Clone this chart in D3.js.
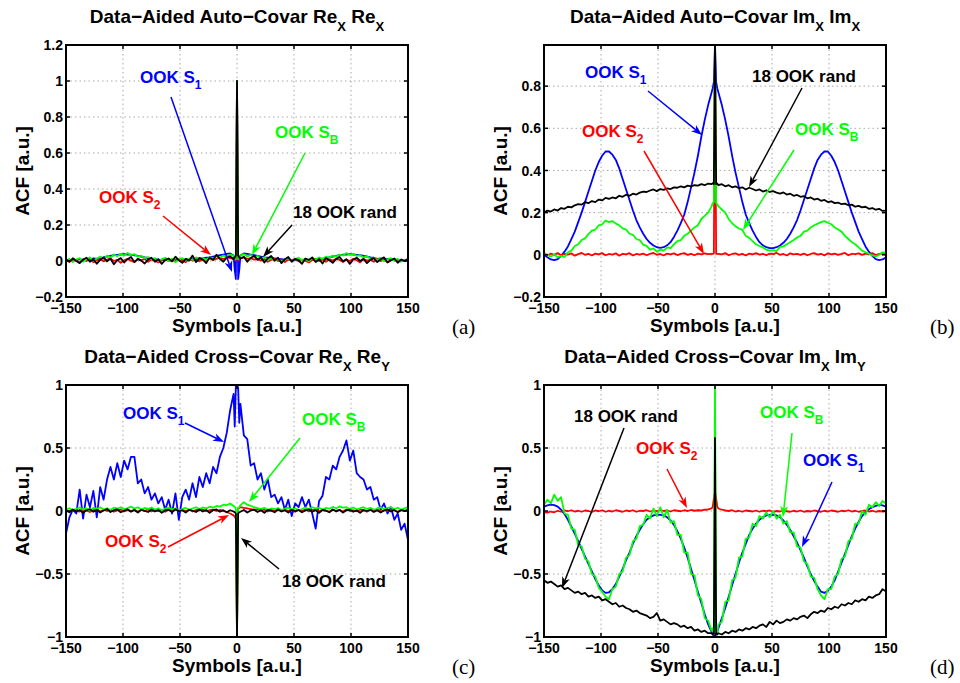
<!DOCTYPE html>
<html>
<head>
<meta charset="utf-8">
<script src="https://cdn.jsdelivr.net/npm/d3@7"></script>
<style>
  body { margin: 0; background: #fff; }
  svg { display: block; }
  text { font-family: "Liberation Sans", Arial, Helvetica, sans-serif; font-weight: bold; }
  .letter { font-family: "Liberation Serif", "Times New Roman", serif; font-weight: normal; }
</style>
</head>
<body>
<svg id="fig" width="960" height="683"></svg>
<script>
// lag axis: every 3rd symbol, plus every symbol round lag 0
var lags = d3.range(-150, -2, 3).concat([-2, -1, 0, 1, 2], d3.range(3, 151, 3));
var xTicks = [-150, -100, -50, 0, 50, 100, 150];

// (a) auto-covariance Re_X Re_X
var rexBlue = [
  0.005, 0.0, 0.008, 0.004, 0.01, 0.006, 0.012, 0.008, 0.015, 0.012, 0.018, 0.02, 0.025, 0.028, 0.032, 0.034, 0.036, 0.038, 0.036, 0.035, 0.032, 0.028, 0.024, 0.02, 0.016,
  0.012, 0.01, 0.008, 0.006, 0.005, 0.004, 0.004, 0.005, 0.006, 0.006, 0.008, 0.008, 0.01, 0.012, 0.014, 0.016, 0.018, 0.02, 0.024, 0.028, 0.032, 0.036, 0.04, 0.042, 0.03,
  -0.05, -0.1, 1.0, -0.1, -0.05,
  0.03, 0.042, 0.04, 0.036, 0.032, 0.028, 0.024, 0.02, 0.018, 0.016, 0.014, 0.012, 0.01, 0.008, 0.008, 0.006, 0.006, 0.005, 0.004, 0.004, 0.005, 0.006, 0.008, 0.01, 0.012,
  0.016, 0.02, 0.024, 0.028, 0.032, 0.035, 0.036, 0.038, 0.036, 0.034, 0.032, 0.028, 0.025, 0.02, 0.018, 0.012, 0.015, 0.008, 0.012, 0.006, 0.01, 0.004, 0.008, 0.0, 0.005
];
var rexRed = [
  0.006, -0.004, 0.01, 0.002, -0.008, 0.008, 0.0, 0.012, -0.006, 0.004, 0.01, -0.002, 0.008, 0.014, 0.0, 0.006, -0.01, 0.004, 0.012, 0.002, -0.006, 0.01, 0.004, 0.012, -0.004,
  0.008, 0.002, -0.008, 0.006, 0.012, 0.0, 0.008, -0.004, 0.01, 0.004, -0.006, 0.012, 0.002, 0.008, -0.002, 0.01, 0.004, 0.014, 0.006, 0.012, 0.018, 0.01, 0.02, 0.016, 0.012,
  0.01, 0.006, 1.0, 0.006, 0.01,
  0.014, 0.02, 0.012, 0.016, 0.008, 0.012, 0.002, 0.01, -0.004, 0.006, 0.012, 0.0, 0.008, -0.006, 0.01, 0.004, 0.012, -0.002, 0.008, 0.002, -0.008, 0.006, 0.012, 0.0, 0.008,
  -0.004, 0.01, 0.002, 0.012, 0.006, -0.006, 0.008, 0.0, 0.012, 0.004, -0.008, 0.01, 0.002, 0.006, -0.004, 0.012, 0.0, 0.008, -0.006, 0.004, 0.01, -0.002, 0.006, 0.0, 0.008
];
var rexGreen = [
  0.0, 0.012, -0.006, 0.008, 0.016, -0.004, 0.01, 0.02, 0.002, 0.014, 0.024, 0.01, 0.03, 0.018, 0.036, 0.026, 0.04, 0.03, 0.045, 0.032, 0.038, 0.024, 0.03, 0.016, 0.022,
  0.008, 0.016, -0.002, 0.01, 0.018, 0.0, 0.012, -0.006, 0.008, 0.016, 0.002, 0.014, 0.006, 0.02, 0.01, 0.018, 0.006, 0.022, 0.014, 0.026, 0.018, 0.03, 0.024, 0.036, 0.03,
  0.02, 0.01, 1.0, 0.01, 0.02,
  0.032, 0.038, 0.026, 0.034, 0.02, 0.028, 0.012, 0.022, 0.006, 0.016, 0.002, 0.012, -0.004, 0.008, 0.014, 0.0, 0.01, 0.018, 0.004, 0.012, -0.002, 0.016, 0.008, 0.02, 0.012,
  0.024, 0.018, 0.03, 0.024, 0.036, 0.03, 0.044, 0.034, 0.04, 0.028, 0.032, 0.02, 0.026, 0.012, 0.018, 0.006, 0.014, -0.002, 0.01, 0.016, 0.0, 0.012, -0.004, 0.008, 0.004
];
var rexBlack = [
  0.01, -0.005, 0.015, 0.0, -0.012, 0.008, 0.018, -0.004, 0.01, -0.015, 0.006, 0.02, -0.002, 0.012, -0.018, 0.004, 0.016, -0.008, 0.01, 0.022, -0.006, 0.012, 0.002, -0.014, 0.008,
  0.018, -0.004, 0.01, -0.016, 0.006, 0.014, -0.002, 0.024, 0.004, -0.01, 0.012, 0.002, 0.03, -0.006, 0.016, 0.008, -0.012, 0.02, 0.006, 0.035, 0.012, -0.004, 0.018, 0.026, 0.01,
  0.02, 0.03, 1.0, 0.03, 0.02,
  0.012, 0.024, -0.004, 0.016, 0.03, 0.006, 0.02, -0.008, 0.014, 0.028, 0.002, 0.018, -0.012, 0.01, 0.022, -0.004, 0.012, 0.004, -0.016, 0.014, 0.006, 0.02, -0.006, 0.01, -0.014,
  0.016, 0.004, -0.01, 0.012, 0.022, -0.002, 0.01, -0.016, 0.008, 0.018, 0.0, 0.012, -0.012, 0.006, 0.016, -0.006, 0.01, 0.02, -0.008, 0.004, 0.014, -0.01, 0.008, 0.0, 0.012
];

// (b) auto-covariance Im_X Im_X
var imxBlue = [
  0.0, -0.012, -0.022, -0.025, -0.02, -0.005, 0.015, 0.04, 0.075, 0.11, 0.155, 0.2, 0.25, 0.3, 0.35, 0.4, 0.44, 0.47, 0.49, 0.49, 0.475, 0.45, 0.41, 0.36, 0.31,
  0.26, 0.21, 0.165, 0.13, 0.1, 0.075, 0.057, 0.044, 0.036, 0.033, 0.036, 0.045, 0.06, 0.085, 0.115, 0.15, 0.19, 0.25, 0.32, 0.39, 0.47, 0.56, 0.64, 0.71, 0.77,
  0.79, 0.82, 1.0, 0.82, 0.79,
  0.77, 0.71, 0.64, 0.56, 0.47, 0.39, 0.32, 0.25, 0.19, 0.15, 0.115, 0.085, 0.06, 0.045, 0.036, 0.032, 0.032, 0.036, 0.044, 0.057, 0.075, 0.1, 0.13, 0.165, 0.21,
  0.26, 0.31, 0.36, 0.41, 0.45, 0.475, 0.49, 0.49, 0.47, 0.44, 0.4, 0.35, 0.3, 0.25, 0.2, 0.155, 0.11, 0.075, 0.04, 0.015, -0.005, -0.02, -0.025, -0.022, -0.012
];
var imxRed = [
  0.004, -0.003, 0.006, 0.0, 0.008, -0.002, 0.005, 0.001, 0.007, -0.004, 0.003, 0.009, 0.0, 0.005, -0.003, 0.006, 0.002, 0.008, -0.002, 0.004, 0.001, 0.007, -0.004, 0.005, 0.002,
  0.008, -0.003, 0.004, 0.001, 0.006, -0.002, 0.005, 0.009, 0.0, 0.004, -0.003, 0.006, 0.002, 0.007, -0.001, 0.004, 0.008, 0.0, 0.005, -0.002, 0.006, 0.002, 0.007, 0.003, 0.005,
  0.004, 0.006, 1.0, 0.006, 0.004,
  0.005, 0.002, 0.008, -0.002, 0.004, 0.007, 0.0, 0.005, -0.003, 0.006, 0.002, 0.008, 0.001, 0.005, -0.002, 0.006, 0.003, 0.009, 0.0, 0.004, -0.003, 0.007, 0.002, 0.005, 0.0,
  0.006, -0.002, 0.004, 0.008, 0.001, 0.005, -0.003, 0.007, 0.002, 0.006, 0.0, 0.004, 0.009, -0.002, 0.005, 0.003, 0.007, 0.0, 0.006, 0.002, 0.008, -0.001, 0.004, 0.006, 0.002
];
var imxGreen = [
  0.01, 0.0, -0.008, 0.002, -0.012, -0.005, -0.01, 0.012, 0.02, 0.042, 0.05, 0.07, 0.078, 0.098, 0.115, 0.12, 0.14, 0.145, 0.162, 0.155, 0.16, 0.148, 0.14, 0.125, 0.12,
  0.1, 0.095, 0.075, 0.07, 0.048, 0.042, 0.025, 0.03, 0.015, 0.025, 0.02, 0.035, 0.032, 0.05, 0.065, 0.07, 0.09, 0.1, 0.115, 0.13, 0.14, 0.17, 0.185, 0.2, 0.23,
  0.245, 0.25, 1.0, 0.245, 0.24,
  0.23, 0.215, 0.2, 0.17, 0.15, 0.135, 0.125, 0.118, 0.09, 0.08, 0.065, 0.05, 0.042, 0.035, 0.025, 0.02, 0.022, 0.018, 0.038, 0.04, 0.05, 0.06, 0.07, 0.082, 0.09,
  0.11, 0.115, 0.13, 0.14, 0.148, 0.155, 0.16, 0.152, 0.145, 0.13, 0.12, 0.11, 0.09, 0.075, 0.06, 0.05, 0.035, 0.02, 0.012, 0.005, -0.003, -0.008, 0.0, 0.012, 0.01
];
var imxBlack = [
  0.2, 0.21, 0.205, 0.215, 0.21, 0.222, 0.218, 0.228, 0.225, 0.235, 0.24, 0.238, 0.25, 0.245, 0.255, 0.25, 0.262, 0.258, 0.27, 0.265, 0.272, 0.268, 0.28, 0.275, 0.285,
  0.28, 0.29, 0.286, 0.295, 0.3, 0.298, 0.305, 0.31, 0.302, 0.312, 0.308, 0.315, 0.312, 0.32, 0.318, 0.325, 0.32, 0.328, 0.325, 0.33, 0.328, 0.335, 0.33, 0.338, 0.335,
  0.34, 0.335, 1.0, 0.335, 0.338,
  0.33, 0.335, 0.325, 0.33, 0.32, 0.325, 0.316, 0.32, 0.31, 0.318, 0.312, 0.305, 0.31, 0.3, 0.306, 0.298, 0.302, 0.295, 0.29, 0.296, 0.286, 0.29, 0.28, 0.284, 0.275,
  0.278, 0.268, 0.272, 0.262, 0.266, 0.256, 0.26, 0.25, 0.254, 0.245, 0.248, 0.24, 0.243, 0.235, 0.238, 0.228, 0.232, 0.225, 0.228, 0.218, 0.222, 0.214, 0.218, 0.208, 0.21
];

// (c) cross-covariance Re_X Re_Y
var reyBlue = [
  -0.18, -0.05, 0.01, -0.02, 0.17, -0.06, 0.13, 0.03, 0.16, -0.05, 0.19, 0.09, 0.25, 0.35, 0.25, 0.38, 0.27, 0.40, 0.33, 0.43, 0.43, 0.22, 0.25, 0.14, 0.19,
  0.09, 0.14, 0.06, 0.11, 0.01, 0.09, -0.02, 0.14, -0.07, 0.11, 0.17, 0.09, 0.22, 0.11, 0.27, 0.19, 0.30, 0.22, 0.35, 0.30, 0.43, 0.50, 0.62, 0.80, 0.93,
  0.67, 0.99, 1.0, 0.98, 0.70,
  0.85, 0.60, 0.57, 0.36, 0.38, 0.25, 0.30, 0.17, 0.25, 0.11, 0.13, 0.06, 0.11, 0.01, 0.09, -0.04, 0.06, 0.03, 0.11, 0.03, 0.09, -0.02, -0.14, 0.08, 0.12,
  0.27, 0.25, 0.36, 0.33, 0.43, 0.48, 0.56, 0.40, 0.48, 0.30, 0.27, 0.25, 0.17, 0.19, 0.09, 0.11, 0.01, 0.06, -0.02, 0.03, -0.07, -0.02, -0.15, -0.10, -0.23
];
var reyRed = [
  0.004, -0.006, 0.008, 0.0, -0.004, 0.01, 0.002, -0.008, 0.006, 0.012, -0.002, 0.008, 0.0, 0.01, -0.006, 0.004, 0.012, -0.004, 0.006, 0.0, 0.01, -0.006, 0.008, 0.002, 0.012,
  -0.004, 0.006, 0.0, 0.01, -0.006, 0.008, 0.002, 0.012, -0.002, 0.006, 0.0, 0.01, -0.004, 0.008, 0.004, 0.012, -0.002, 0.006, 0.01, 0.0, 0.008, 0.004, -0.01, -0.02, -0.035,
  -0.045, -0.06, -1.0, 0.02, 0.025,
  0.03, 0.025, 0.02, 0.015, 0.01, 0.012, 0.004, 0.01, -0.004, 0.008, 0.002, 0.012, -0.002, 0.006, 0.0, 0.01, -0.006, 0.008, 0.002, 0.012, -0.004, 0.006, 0.01, 0.0, 0.008,
  0.004, -0.006, 0.01, 0.002, 0.008, -0.004, 0.012, 0.0, 0.006, -0.002, 0.01, 0.004, -0.006, 0.008, 0.002, 0.012, -0.004, 0.006, 0.0, 0.01, 0.004, -0.006, 0.008, 0.002, 0.006
];
var reyGreen = [
  0.01, 0.022, 0.005, 0.018, 0.028, 0.012, 0.02, 0.004, 0.025, 0.015, 0.03, 0.012, 0.022, 0.008, 0.026, 0.018, 0.03, 0.014, 0.024, 0.035, 0.02, 0.03, 0.012, 0.024, 0.016,
  0.028, 0.01, 0.022, 0.006, 0.018, 0.026, 0.012, 0.02, 0.004, 0.016, 0.024, 0.01, 0.02, 0.03, 0.015, 0.028, 0.02, 0.034, 0.026, 0.04, 0.035, 0.05, 0.045, 0.06, 0.04,
  0.03, 0.02, -1.0, 0.02, 0.03,
  0.045, 0.07, 0.05, 0.04, 0.03, 0.022, 0.015, 0.025, 0.01, 0.02, 0.014, 0.024, 0.008, 0.018, 0.026, 0.012, 0.022, 0.006, 0.016, 0.028, 0.014, 0.03, 0.02, 0.026, 0.012,
  0.024, 0.018, 0.032, 0.022, 0.036, 0.026, 0.03, 0.016, 0.028, 0.012, 0.022, 0.03, 0.016, 0.026, 0.01, 0.02, 0.028, 0.014, 0.024, 0.03, 0.016, 0.026, 0.01, 0.022, 0.03
];
var reyBlack = [
  0.005, -0.01, 0.012, -0.004, 0.008, -0.014, 0.006, 0.014, -0.006, 0.01, -0.012, 0.004, 0.016, -0.008, 0.006, 0.012, -0.01, 0.002, 0.014, -0.006, 0.008, -0.012, 0.01, 0.0, -0.008,
  0.012, -0.004, 0.008, -0.014, 0.004, 0.01, -0.008, 0.014, -0.002, 0.006, -0.012, 0.01, 0.002, -0.008, 0.012, -0.004, 0.008, -0.014, 0.006, 0.012, -0.006, 0.004, -0.01, 0.006, -0.004,
  -0.01, -0.02, -1.0, -0.02, -0.01,
  -0.006, 0.008, -0.012, 0.004, 0.01, -0.008, 0.006, -0.014, 0.008, 0.002, -0.01, 0.012, -0.004, 0.006, -0.012, 0.01, -0.002, 0.008, -0.01, 0.004, 0.012, -0.006, 0.006, -0.014, 0.008,
  0.002, -0.01, 0.012, -0.004, 0.008, -0.012, 0.006, 0.01, -0.006, 0.004, -0.014, 0.008, 0.0, 0.01, -0.008, 0.006, -0.012, 0.004, 0.012, -0.004, 0.008, -0.01, 0.006, 0.0, 0.01
];

// (d) cross-covariance Im_X Im_Y
var imyBlue = [
  0.035, 0.045, 0.05, 0.047, 0.035, 0.01, -0.025, -0.07, -0.125, -0.18, -0.24, -0.30, -0.36, -0.42, -0.48, -0.54, -0.59, -0.63, -0.65, -0.645, -0.62, -0.58, -0.52, -0.46, -0.39,
  -0.33, -0.26, -0.20, -0.15, -0.105, -0.07, -0.05, -0.035, -0.03, -0.03, -0.035, -0.05, -0.075, -0.11, -0.16, -0.22, -0.29, -0.37, -0.46, -0.55, -0.64, -0.73, -0.82, -0.90, -0.96,
  -0.98, -0.99, -1.0, -0.98, -0.96,
  -0.93, -0.85, -0.77, -0.68, -0.59, -0.50, -0.41, -0.33, -0.26, -0.19, -0.14, -0.10, -0.07, -0.05, -0.035, -0.03, -0.03, -0.035, -0.05, -0.075, -0.11, -0.15, -0.20, -0.25, -0.31,
  -0.37, -0.44, -0.50, -0.555, -0.60, -0.64, -0.65, -0.635, -0.60, -0.55, -0.48, -0.41, -0.34, -0.27, -0.20, -0.14, -0.085, -0.04, -0.01, 0.015, 0.03, 0.04, 0.048, 0.045, 0.035
];
var imyRed = [
  -0.01, -0.012, -0.004, -0.01, 0.002, -0.006, 0.004, -0.002, 0.006, -0.004, 0.002, -0.006, 0.004, 0.0, -0.008, 0.004, -0.002, 0.006, -0.006, 0.002, -0.004, 0.006, 0.0, -0.006, 0.004,
  -0.002, 0.006, -0.006, 0.002, 0.0, 0.006, -0.004, 0.004, -0.002, 0.008, 0.0, 0.004, -0.004, 0.006, 0.002, -0.002, 0.006, 0.0, 0.008, 0.002, 0.006, 0.004, 0.01, 0.012, 0.02,
  0.035, 0.1, 0.15, 0.1, 0.035,
  0.02, 0.01, 0.004, 0.0, 0.006, -0.004, 0.002, -0.006, 0.004, 0.0, -0.004, 0.004, -0.006, 0.002, -0.002, 0.004, -0.006, 0.0, -0.004, 0.004, -0.002, -0.006, 0.002, -0.004, 0.004,
  -0.006, 0.0, -0.004, 0.004, -0.002, -0.006, 0.002, -0.004, 0.004, 0.0, -0.006, 0.002, -0.002, 0.006, -0.004, 0.002, -0.006, 0.0, 0.004, -0.004, 0.002, -0.006, 0.0, -0.004, -0.002
];
var imyGreen = [
  0.05, 0.09, 0.06, 0.13, 0.08, 0.11, -0.02, -0.03, -0.14, -0.15, -0.27, -0.28, -0.38, -0.40, -0.50, -0.52, -0.61, -0.64, -0.68, -0.70, -0.62, -0.60, -0.50, -0.48, -0.37,
  -0.35, -0.24, -0.22, -0.12, -0.11, -0.03, -0.06, 0.02, -0.04, 0.03, -0.05, 0.01, -0.09, -0.08, -0.19, -0.19, -0.33, -0.33, -0.50, -0.51, -0.67, -0.70, -0.85, -0.87, -0.95,
  -0.93, -0.97, 1.0, -0.95, -0.97,
  -0.90, -0.88, -0.72, -0.71, -0.55, -0.53, -0.37, -0.36, -0.22, -0.21, -0.10, -0.12, -0.04, -0.06, -0.01, -0.05, 0.0, -0.06, -0.03, -0.10, -0.08, -0.17, -0.17, -0.28, -0.29,
  -0.40, -0.42, -0.52, -0.53, -0.62, -0.67, -0.70, -0.62, -0.62, -0.52, -0.50, -0.38, -0.36, -0.24, -0.22, -0.10, -0.10, 0.0, -0.03, 0.05, 0.03, 0.07, 0.04, 0.08, 0.06
];
var imyBlack = [
  -0.55, -0.57, -0.56, -0.58, -0.6, -0.59, -0.62, -0.61, -0.63, -0.65, -0.64, -0.66, -0.65, -0.68, -0.67, -0.69, -0.68, -0.71, -0.7, -0.72, -0.74, -0.73, -0.76, -0.75, -0.77,
  -0.78, -0.8, -0.79, -0.81, -0.82, -0.83, -0.85, -0.84, -0.81, -0.87, -0.86, -0.88, -0.9, -0.89, -0.9, -0.92, -0.91, -0.93, -0.92, -0.95, -0.94, -0.96, -0.95, -0.97, -0.97,
  -0.98, -0.97, 0.58, -0.97, -0.98,
  -0.97, -0.98, -0.96, -0.97, -0.95, -0.96, -0.94, -0.95, -0.93, -0.94, -0.92, -0.93, -0.91, -0.9, -0.92, -0.88, -0.9, -0.87, -0.89, -0.88, -0.86, -0.87, -0.85, -0.86, -0.84,
  -0.83, -0.85, -0.82, -0.8, -0.81, -0.79, -0.8, -0.77, -0.78, -0.76, -0.77, -0.74, -0.75, -0.73, -0.74, -0.71, -0.72, -0.7, -0.71, -0.68, -0.69, -0.67, -0.66, -0.62, -0.64
];

var colors = { blue: "#0000ff", red: "#ff0000", green: "#00ff00", black: "#000000" };

var W = 342, H = 252;
var panels = [
  {
    left: 66, top: 45, letter: "(a)",
    title: [["Data\u2212Aided Auto\u2212Covar Re"], ["X", 1], [" Re"], ["X", 1]],
    yDomain: [-0.2, 1.2], yTicks: [-0.2, 0, 0.2, 0.4, 0.6, 0.8, 1, 1.2],
    series: [[rexBlue, "blue"], [rexRed, "red"], [rexGreen, "green"], [rexBlack, "black"]],
    notes: [
      ["blue", "OOK S", "1", 74, 38, 105, 52, 166, 227],
      ["green", "OOK S", "B", 209, 93, 239, 108, 186, 210],
      ["red", "OOK S", "2", 33, 158, 97, 171, 145, 210],
      ["black", "18 OOK rand", "", 227, 173, 226, 180, 197, 212]
    ]
  },
  {
    left: 544, top: 45, letter: "(b)",
    title: [["Data\u2212Aided Auto\u2212Covar Im"], ["X", 1], [" Im"], ["X", 1]],
    yDomain: [-0.2, 0.995], yTicks: [-0.2, 0, 0.2, 0.4, 0.6, 0.8],
    series: [[imxBlue, "blue"], [imxRed, "red"], [imxGreen, "green"], [imxBlack, "black"]],
    notes: [
      ["blue", "OOK S", "1", 41, 33, 104, 46, 158, 90],
      ["red", "OOK S", "2", 38, 92, 100, 106, 160, 209],
      ["black", "18 OOK rand", "", 208, 37, 258, 43, 205, 142],
      ["green", "OOK S", "B", 251, 90, 250, 105, 199, 185]
    ]
  },
  {
    left: 66, top: 385, letter: "(c)",
    title: [["Data\u2212Aided Cross\u2212Covar Re"], ["X", 1], [" Re"], ["Y", 1]],
    yDomain: [-1, 1], yTicks: [-1, -0.5, 0, 0.5, 1],
    series: [[reyBlue, "blue"], [reyRed, "red"], [reyGreen, "green"], [reyBlack, "black"]],
    notes: [
      ["blue", "OOK S", "1", 57, 34, 119, 38, 158, 57],
      ["green", "OOK S", "B", 236, 40, 234, 53, 183, 117],
      ["red", "OOK S", "2", 39, 162, 102, 162, 163, 130],
      ["black", "18 OOK rand", "", 216, 202, 213, 184, 175, 153]
    ]
  },
  {
    left: 544, top: 385, letter: "(d)",
    title: [["Data\u2212Aided Cross\u2212Covar Im"], ["X", 1], [" Im"], ["Y", 1]],
    yDomain: [-1, 1], yTicks: [-1, -0.5, 0, 0.5, 1],
    series: [[imyBlue, "blue"], [imyRed, "red"], [imyGreen, "green"], [imyBlack, "black"]],
    notes: [
      ["black", "18 OOK rand", "", 30, 37, 80, 43, 18, 203],
      ["red", "OOK S", "2", 92, 69, 123, 84, 143, 123],
      ["green", "OOK S", "B", 216, 33, 248, 48, 239, 132],
      ["blue", "OOK S", "1", 259, 81, 288, 97, 258, 162]
    ]
  }
];

var svg = d3.select("#fig");
var fmt = d3.format("~g");

function arrow(g, x1, y1, x2, y2, color) {
  var dx = x2 - x1, dy = y2 - y1, len = Math.sqrt(dx * dx + dy * dy);
  var ux = dx / len, uy = dy / len, px = -uy, py = ux;
  var L = 11, hw = 4, notch = 8;
  g.append("line")
    .attr("x1", x1).attr("y1", y1)
    .attr("x2", x2 - ux * notch).attr("y2", y2 - uy * notch)
    .attr("stroke", color).attr("stroke-width", 1.5);
  var pts = [
    [x2, y2],
    [x2 - ux * L + px * hw, y2 - uy * L + py * hw],
    [x2 - ux * notch, y2 - uy * notch],
    [x2 - ux * L - px * hw, y2 - uy * L - py * hw]
  ];
  g.append("polygon").attr("points", pts.map(function (p) { return p.join(","); }).join(" "))
    .attr("fill", color);
}

panels.forEach(function (p, pi) {
  var g = svg.append("g").attr("transform", "translate(" + p.left + "," + p.top + ")");
  var x = d3.scaleLinear().domain([-150, 150]).range([0, W]);
  var y = d3.scaleLinear().domain(p.yDomain).range([H, 0]);

  // dotted grid
  g.append("g").selectAll("line").data(xTicks).enter().append("line")
    .attr("x1", function (d) { return x(d); }).attr("x2", function (d) { return x(d); })
    .attr("y1", 0).attr("y2", H)
    .attr("stroke", "#a8a8a8").attr("stroke-width", 1).attr("stroke-dasharray", "1.5,3");
  g.append("g").selectAll("line").data(p.yTicks).enter().append("line")
    .attr("y1", function (d) { return y(d); }).attr("y2", function (d) { return y(d); })
    .attr("x1", 0).attr("x2", W)
    .attr("stroke", "#a8a8a8").attr("stroke-width", 1).attr("stroke-dasharray", "1.5,3");

  // series
  var clipId = "clip" + pi;
  g.append("clipPath").attr("id", clipId).append("rect").attr("width", W).attr("height", H);
  var line = d3.line().x(function (d, i) { return x(lags[i]); }).y(function (d) { return y(d); });
  var plot = g.append("g").attr("clip-path", "url(#" + clipId + ")");
  p.series.forEach(function (s) {
    if (s[0].length !== lags.length) console.warn("length mismatch", p.letter, s[1], s[0].length);
    plot.append("path").datum(s[0])
      .attr("d", line)
      .attr("fill", "none")
      .attr("stroke", colors[s[1]])
      .attr("stroke-width", 1.8)
      .attr("stroke-linejoin", "round");
  });

  // box and inward ticks
  g.append("rect").attr("width", W).attr("height", H)
    .attr("fill", "none").attr("stroke", "#000").attr("stroke-width", 2);
  var tk = g.append("g").attr("stroke", "#000").attr("stroke-width", 1.5);
  xTicks.forEach(function (d) {
    tk.append("line").attr("x1", x(d)).attr("x2", x(d)).attr("y1", H).attr("y2", H - 4);
    tk.append("line").attr("x1", x(d)).attr("x2", x(d)).attr("y1", 0).attr("y2", 4);
  });
  p.yTicks.forEach(function (d) {
    tk.append("line").attr("y1", y(d)).attr("y2", y(d)).attr("x1", 0).attr("x2", 4);
    tk.append("line").attr("y1", y(d)).attr("y2", y(d)).attr("x1", W).attr("x2", W - 4);
  });

  // tick labels
  g.append("g").selectAll("text").data(xTicks).enter().append("text")
    .attr("x", function (d) { return x(d); }).attr("y", H + 16)
    .attr("text-anchor", "middle").attr("font-size", 14)
    .text(function (d) { return fmt(d); });
  g.append("g").selectAll("text").data(p.yTicks).enter().append("text")
    .attr("x", -3).attr("y", function (d) { return y(d); }).attr("dy", "0.36em")
    .attr("text-anchor", "end").attr("font-size", 14)
    .text(function (d) { return fmt(d); });

  // axis labels
  g.append("text").attr("x", W / 2).attr("y", H + 35)
    .attr("text-anchor", "middle").attr("font-size", 19).text("Symbols [a.u.]");
  g.append("text").attr("transform", "translate(-37," + (H / 2) + ") rotate(-90)")
    .attr("text-anchor", "middle").attr("font-size", 19).text("ACF [a.u.]");

  // title with subscripts
  var t = g.append("text").attr("x", W / 2).attr("y", -22)
    .attr("text-anchor", "middle").attr("font-size", 19);
  var shifted = false;
  p.title.forEach(function (part) {
    var sp = t.append("tspan").text(part[0]);
    if (part[1]) { sp.attr("font-size", 13).attr("dy", 8); shifted = true; }
    else if (shifted) { sp.attr("dy", -8); shifted = false; }
  });

  // panel letter
  g.append("text").attr("class", "letter").attr("x", 386).attr("y", H + 37)
    .attr("font-size", 21).text(p.letter);

  // annotations
  p.notes.forEach(function (n) {
    var c = colors[n[0]];
    var tx = g.append("text").attr("x", n[3]).attr("y", n[4])
      .attr("font-size", 17).attr("fill", c).text(n[1]);
    if (n[2]) tx.append("tspan").attr("dy", 6).attr("font-size", 12).text(n[2]);
    arrow(g, n[5], n[6], n[7], n[8], c);
  });
});
</script>
</body>
</html>
